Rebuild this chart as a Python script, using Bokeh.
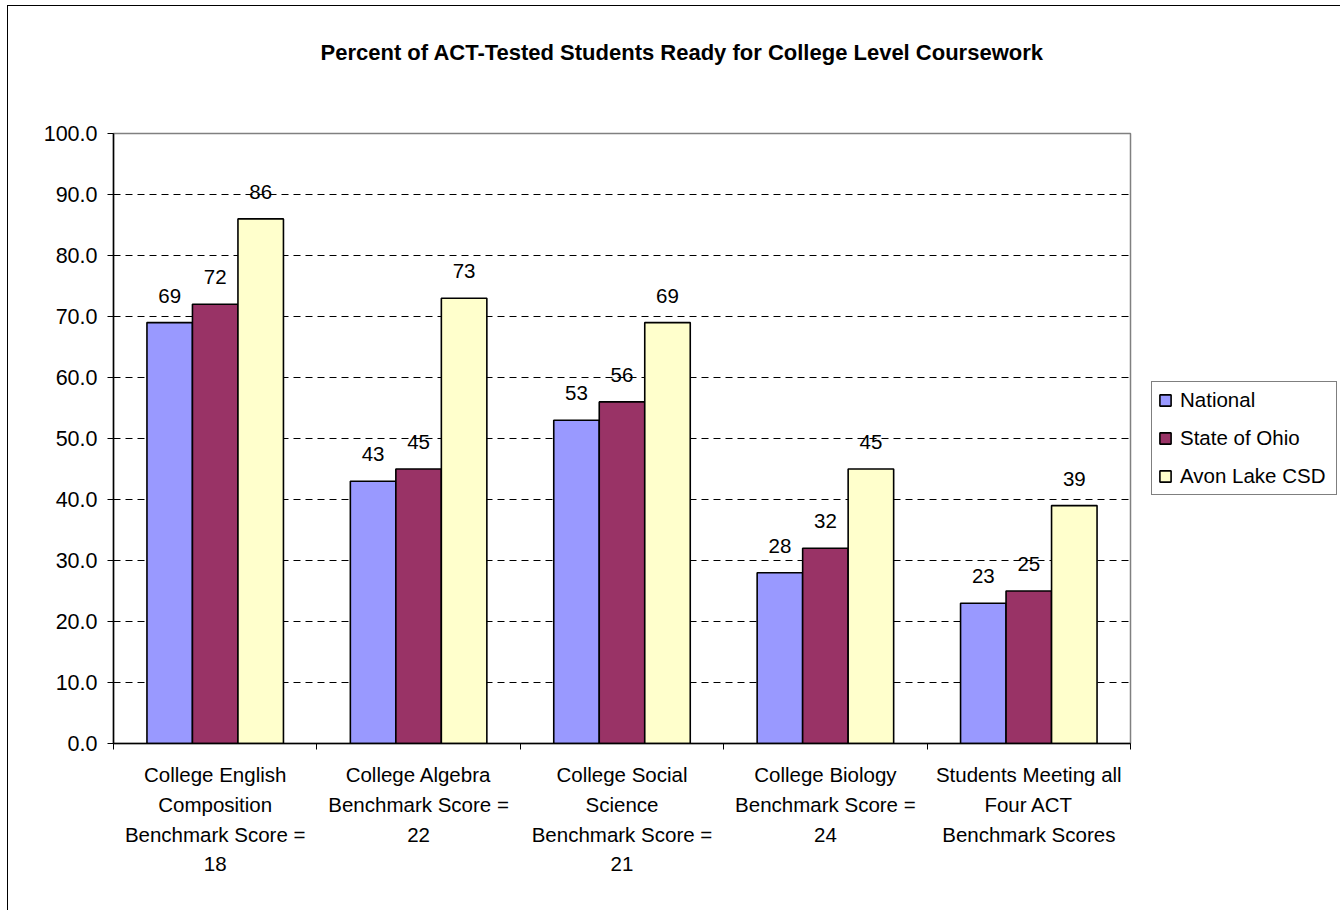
from bokeh.plotting import figure
from bokeh.models import (Range1d, FixedTicker, Legend, LegendItem, LinearAxis, Title,
                          ColumnDataSource, PrintfTickFormatter)
from bokeh.embed import file_html
from bokeh.resources import INLINE
from bokeh.core.properties import value

# ---------------- data ----------------
title_text = "Percent of ACT-Tested Students Ready for College Level Coursework"
categories = [
    "College English\nComposition\nBenchmark Score =\n18",
    "College Algebra\nBenchmark Score =\n22",
    "College Social\nScience\nBenchmark Score =\n21",
    "College Biology\nBenchmark Score =\n24",
    "Students Meeting all\nFour ACT\nBenchmark Scores",
]
series_names = ["National", "State of Ohio", "Avon Lake CSD"]
national = [69, 43, 53, 28, 23]
ohio = [72, 45, 56, 32, 25]
avon = [86, 73, 69, 45, 39]
y_ticks = [0, 10, 20, 30, 40, 50, 60, 70, 80, 90, 100]

# ---------------- style ----------------
FONT = "Liberation Sans"
FS = "20.5px"
colors = ["#9999FF", "#993366", "#FFFFCC"]
BAR_W = 0.2237
offsets = [-BAR_W, 0.0, BAR_W]
line_standoffs = [13, 4, 4, 8]

n = len(categories)
p = figure(frame_width=1017, frame_height=610,
           x_range=Range1d(0, n), y_range=Range1d(0, 100),
           output_backend="svg", toolbar_location=None, title=None,
           min_border_left=105, min_border_right=210,
           min_border_top=127, min_border_bottom=167)
p.styles = {"margin-left": "7px", "margin-top": "5px",
            "border-left": "1px solid #000000", "border-top": "1px solid #000000"}
p.background_fill_color = "white"
p.border_fill_color = "white"
p.outline_line_color = "#808080"
p.outline_line_width = 1.5

# title (spacer first = nearest to the frame, then the title text)
spacer = Title(text=" ", text_font_size="1px", standoff=64)
p.add_layout(spacer, "above")
ttl = Title(text=title_text, text_font=FONT, text_font_style="bold",
            text_font_size="22px", text_color="#000000", align="left",
            offset=207, vertical_align="top", standoff=0)
p.add_layout(ttl, "above")

# grid
p.xgrid.grid_line_color = None
p.ygrid.ticker = FixedTicker(ticks=y_ticks)
p.ygrid.grid_line_color = "#000000"
p.ygrid.grid_line_dash = "7 5"
p.ygrid.grid_line_width = 1

# y axis
p.yaxis.ticker = FixedTicker(ticks=y_ticks)
p.yaxis.formatter = PrintfTickFormatter(format="%.1f")
p.yaxis.major_label_text_font = FONT
p.yaxis.major_label_text_font_size = "21.5px"
p.yaxis.major_label_text_color = "#000000"
p.yaxis.axis_line_color = "#000000"
p.yaxis.axis_line_width = 1.5
p.yaxis.major_tick_line_color = "#000000"
p.yaxis.major_tick_out = 6
p.yaxis.major_tick_in = 0
p.yaxis.minor_tick_line_color = None
p.yaxis.major_label_standoff = 10

# x axes: one axis per text line of the category labels
centers = [i + 0.5 for i in range(n)]
bounds = list(range(n + 1))
split = [c.split("\n") for c in categories]
n_lines = max(len(s) for s in split)
lines = [[s[k] if k < len(s) else "" for s in split] for k in range(n_lines)]

xa = p.xaxis[0]
xa.ticker = FixedTicker(ticks=centers, minor_ticks=bounds)
xa.major_label_overrides = {c: t for c, t in zip(centers, lines[0])}
xa.major_tick_line_color = None
xa.major_tick_out = 0
xa.major_tick_in = 0
xa.minor_tick_line_color = "#000000"
xa.minor_tick_out = 6
xa.minor_tick_in = 0
xa.axis_line_color = "#000000"
xa.axis_line_width = 1.5
axes = [xa]
for k in range(1, n_lines):
    ax = LinearAxis(ticker=FixedTicker(ticks=centers),
                    major_label_overrides={c: t for c, t in zip(centers, lines[k])})
    ax.axis_line_color = None
    ax.major_tick_line_color = None
    ax.minor_tick_line_color = None
    ax.major_tick_out = 0
    ax.major_tick_in = 0
    p.add_layout(ax, "below")
    axes.append(ax)
for ax, so in zip(axes, line_standoffs):
    ax.major_label_standoff = so
    ax.major_label_text_font = FONT
    ax.major_label_text_font_size = FS
    ax.major_label_text_color = "#000000"

# bars
renderers = []
for vals, col, off in zip([national, ohio, avon], colors, offsets):
    xs = [c + off for c in centers]
    src = ColumnDataSource(dict(x=xs, top=vals, txt=[str(v) for v in vals]))
    r = p.vbar(x="x", top="top", width=BAR_W, bottom=0, source=src,
               fill_color=col, line_color="#000000", line_width=1.6)
    renderers.append(r)
    p.text(x="x", y="top", text="txt", source=src, text_font=value(FONT),
           text_font_size=FS, text_color="#000000", text_align="center",
           text_baseline="middle", y_offset=-27)

# legend
legend = Legend(items=[LegendItem(label=nm, renderers=[r]) for nm, r in zip(series_names, renderers)],
                location=(21, 248), orientation="vertical")
legend.label_text_font = FONT
legend.label_text_font_size = FS
legend.label_text_color = "#000000"
legend.glyph_width = 14
legend.glyph_height = 14
legend.label_standoff = 8
legend.label_height = 24
legend.label_width = 150
legend.spacing = 14
legend.padding = 6
legend.margin = 0
legend.border_line_color = "#000000"
legend.border_line_width = 1
legend.background_fill_color = "white"
p.add_layout(legend, "right")

open("out.html", "w").write(file_html(p, INLINE))
